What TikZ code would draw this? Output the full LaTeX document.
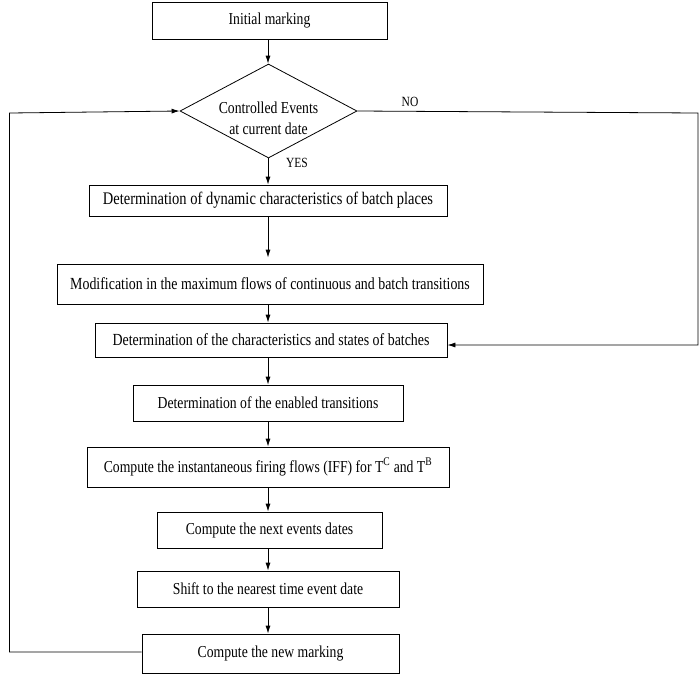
\documentclass[tikz,border=0pt]{standalone}
\usepackage{fontspec}
\usepackage{graphicx}
\setmainfont{Liberation Serif}
\usetikzlibrary{shapes.geometric,arrows.meta,calc}
\newcommand{\vst}[1]{\scalebox{1}[1.22]{#1}}
\tikzset{
  box/.style={draw, line width=0.8pt, inner sep=0pt, font=\fontsize{13.7}{16}\selectfont},
  flow/.style={draw, line width=0.8pt, -{Latex[length=8pt,width=5pt]}},
  plain/.style={draw, line width=0.8pt},
  lbl/.style={inner sep=0pt, font=\fontsize{11.5}{13}\selectfont}
}
\begin{document}
\begin{tikzpicture}[x=1pt,y=-1pt]
\useasboundingbox (0,0) rectangle (699,675);
\coordinate (col) at (268,0);
\node[box, minimum width=235, minimum height=37] (init) at (269.5,20.5) {\vst{Initial marking}};
\node[draw, line width=0.8pt, diamond, aspect=1.88, inner sep=0pt, minimum width=177, minimum height=94] (dec) at (268.5,111) {};
\node[font=\fontsize{13.7}{21}\selectfont, align=center, inner sep=0pt] (dectxt) at (268.5,118) {\vst{Controlled Events}\\\vst{at current date}};
\node[box, minimum width=358, minimum height=31, font=\fontsize{14.5}{16}\selectfont] (b1) at (268,200.5) {\vst{Determination of dynamic characteristics of batch places}};
\node[box, minimum width=426, minimum height=40, font=\fontsize{13.9}{16}\selectfont] (b2) at (270,284) {\vst{Modification in the maximum flows of continuous and batch transitions}};
\node[box, minimum width=352, minimum height=34, font=\fontsize{13.9}{16}\selectfont] (b3) at (271,340) {\vst{Determination of the characteristics and states of batches}};
\node[box, minimum width=270, minimum height=36] (b4) at (268,403) {\vst{Determination of the enabled transitions}};
\node[box, minimum width=362, minimum height=40] (b5) at (268,467) {\vst{Compute the instantaneous firing flows (IFF) for T\textsuperscript{C} and T\textsuperscript{B}}};
\node[box, minimum width=225, minimum height=36] (b6) at (269.5,530) {\vst{Compute the next events dates}};
\node[box, minimum width=262, minimum height=36] (b7) at (268,589) {\vst{Shift to the nearest time event date}};
\node[box, minimum width=257, minimum height=39] (b8) at (270.5,653.5) {\vst{Compute the new marking}};
\node[lbl] (no) at (410,102) {\vst{NO}};
\node[lbl] (yes) at (297,163) {\vst{YES}};
\coordinate (lb) at (9.5,652);
\coordinate (lt) at (9.5,113);
\coordinate (rt) at (698,113);
\coordinate (rb) at (698,345);
\path[flow] (init.south -| col) -- (dec.north -| col);
\path[flow] (dec.south -| col) -- (b1.north -| col);
\path[flow, shorten >=6pt] (b1.south -| col) -- (b2.north -| col);
\path[flow] (b2.south -| col) -- (b3.north -| col);
\path[flow] (b3.south -| col) -- (b4.north -| col);
\path[flow] (b4.south -| col) -- (b5.north -| col);
\path[flow] (b5.south -| col) -- (b6.north -| col);
\path[flow] (b6.south -| col) -- (b7.north -| col);
\path[flow] (b7.south -| col) -- (b8.north -| col);
\path[flow] (b8.west |- lb) -- (lb) -- (lt) -- (dec.west);
\path[flow] (dec.east) -- (rt) -- (rb) -- (b3.east |- rb);
\end{tikzpicture}
\end{document}
